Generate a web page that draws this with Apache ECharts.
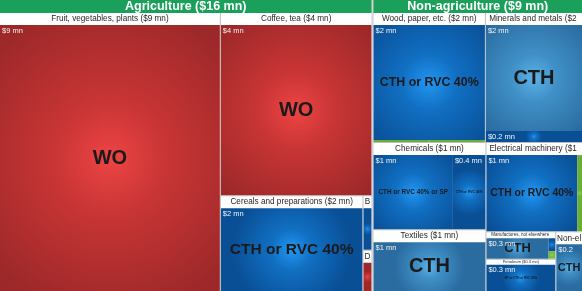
<!DOCTYPE html>
<html><head><meta charset="utf-8">
<script src="https://cdn.jsdelivr.net/npm/echarts@6/dist/echarts.min.js"></script>
<style>html,body{margin:0;padding:0;background:#fff}#c{width:582px;height:291px}</style>
</head><body><div id="c"></div>
<script>
// ---------------- data ----------------
const SECTORS = ['Agriculture', 'Non-agriculture'];
const GROUPS = [
  'Fruit, vegetables, plants', 'Coffee, tea', 'Cereals and preparations',
  'Beverages and tobacco', 'Dairy products',
  'Wood, paper, etc.', 'Minerals and metals', 'Chemicals', 'Textiles',
  'Electrical machinery', 'Manufactures, not elsewhere specified', 'Petroleum',
  'Non-electrical machinery'
];
const GROUP_SECTOR = [0, 0, 0, 0, 0, 1, 1, 1, 1, 1, 1, 1, 1];
const LEAF_GROUP = [0, 1, 2, 3, 4, 5, 5, 6, 6, 7, 7, 8, 9, 9, 10, 10, 10, 11, 12];
const LEAF_RULE = [
  'WO', 'WO', 'CTH or RVC 40%', 'CTH or RVC 40%', 'WO',
  'CTH or RVC 40%', 'CC',
  'CTH', 'CTH or RVC 40%',
  'CTH or RVC 40% or SP', 'CTH or RVC 40%',
  'CTH',
  'CTH or RVC 40%', 'CC',
  'CTH', 'CTH or RVC 40%', 'CC',
  'SP or CTH or RVC 50%',
  'CTH'
];
const LEAF_VALUE = [9.25, 4.17, 2.05, 0.074, 0.056, 2.16, 0.04, 1.72, 0.18, 1.05, 0.43, 1.05, 1.23, 0.065, 0.26, 0.018, 0.01, 0.34, 0.24];

// ---------------- style ----------------
const FONT = "'Liberation Sans', Arial, sans-serif";
const RULE_COLORS = {
  'WO': ['#ee4444', '#c93535', '#9c2829'],
  'CTH': ['#5cb2e6', '#3f8fc6', '#2a6ca0'],
  'CTH or RVC 40%': ['#2296f2', '#116fc2', '#094f96'],
  'CTH or RVC 40% or SP': ['#2296f2', '#116fc2', '#094f96'],
  'SP or CTH or RVC 50%': ['#2296f2', '#116fc2', '#094f96'],
  'CC': ['#8fd14f', '#7cc142', '#6aae38']
};
const LEAF_FONT_SIZE = [20, 20, 15.5, 0, 0, 12.4, 0, 20, 9, 6.4, 3.4, 20, 10.4, 0, 13, 0, 0, 3, 11];
const HEADER = { 10: [6, 4.5], 11: [5, 4] };

function fmt(v) { return v >= 1 ? String(Math.round(v)) : v.toFixed(1); }
function grad(c) {
  return new echarts.graphic.RadialGradient(0.5, 0.5, 0.72, [
    { offset: 0, color: c[0] }, { offset: 0.35, color: c[1] }, { offset: 1, color: c[2] }
  ]);
}

function buildData(mode) {
  return SECTORS.map(function (s, si) {
    const groups = [];
    GROUPS.forEach(function (g, gi) {
      if (GROUP_SECTOR[gi] !== si) return;
      const leaves = [];
      LEAF_VALUE.forEach(function (v, li) {
        if (LEAF_GROUP[li] !== gi) return;
        const rule = LEAF_RULE[li];
        const item = { name: rule, value: v };
        if (mode === 'fill') {
          item.itemStyle = { color: grad(RULE_COLORS[rule]) };
          const fs = LEAF_FONT_SIZE[li];
          item.label = fs ? { fontSize: fs, lineHeight: fs + 1 } : { show: false };
        }
        leaves.push(item);
      });
      const sum = leaves.reduce(function (a, b) { return a + b.value; }, 0);
      const h = HEADER[gi] || [12, 8.2];
      groups.push({ name: g, value: sum, children: leaves,
        upperLabel: { height: h[0], fontSize: h[1], lineHeight: h[0] } });
    });
    return { name: s, value: groups.reduce(function (a, b) { return a + b.value; }, 0), children: groups };
  });
}

const headFmt = function (p) { return p.name + ' ($' + fmt(p.value) + ' mn)'; };
const NONE = 'rgba(0,0,0,0)';

const common = {
  type: 'treemap', left: 0, top: 0, right: 0, bottom: 0,
  roam: false, nodeClick: false, breadcrumb: { show: false },
  sort: false, drillDownIcon: '', animation: false
};

const fillSeries = Object.assign({}, common, {
  data: buildData('fill'),
  levels: [
    { itemStyle: { borderWidth: 0, gapWidth: 2, borderColor: '#d4d4d4' }, upperLabel: { show: false } },
    { itemStyle: { borderWidth: 0, gapWidth: 1, borderColor: '#bdbdbd' },
      upperLabel: { show: true, height: 13, position: 'inside', color: '#fff', fontWeight: 'bold',
        fontSize: 12.5, fontFamily: FONT, backgroundColor: '#1aa05a', padding: 0, lineHeight: 13, formatter: headFmt } },
    { itemStyle: { borderWidth: 0, gapWidth: 0, borderColor: '#ffffff' },
      upperLabel: { show: true, position: 'inside', color: '#262626', fontFamily: FONT, padding: 0,
        ellipsis: '', formatter: headFmt } },
    { itemStyle: { borderWidth: 0, gapWidth: 0 },
      label: { show: true, position: 'inside', color: '#1a1a1a', fontWeight: 'bold', fontFamily: FONT,
        padding: 1, ellipsis: '', formatter: function (p) { return p.name; } } }
  ]
});

const valueSeries = Object.assign({}, common, {
  silent: true,
  data: buildData('value'),
  levels: [
    { itemStyle: { borderWidth: 0, gapWidth: 2, borderColor: NONE, color: NONE }, upperLabel: { show: false } },
    { itemStyle: { borderWidth: 0, gapWidth: 1, borderColor: NONE, color: NONE },
      upperLabel: { show: true, height: 13, color: NONE, formatter: '' } },
    { itemStyle: { borderWidth: 0, gapWidth: 0, borderColor: NONE, color: NONE },
      upperLabel: { show: true, color: NONE, formatter: '' } },
    { itemStyle: { borderWidth: 0, gapWidth: 0, borderColor: NONE, color: NONE },
      label: { show: true, position: 'insideTopLeft', color: '#f4f4f4', fontSize: 7.5, fontFamily: FONT,
        padding: [1.5, 2], ellipsis: '', formatter: function (p) { return '$' + fmt(p.value) + ' mn'; } } }
  ]
});

const chart = echarts.init(document.getElementById('c'), null, { renderer: 'canvas' });
chart.setOption({ animation: false, series: [fillSeries, valueSeries] });
</script></body></html>
